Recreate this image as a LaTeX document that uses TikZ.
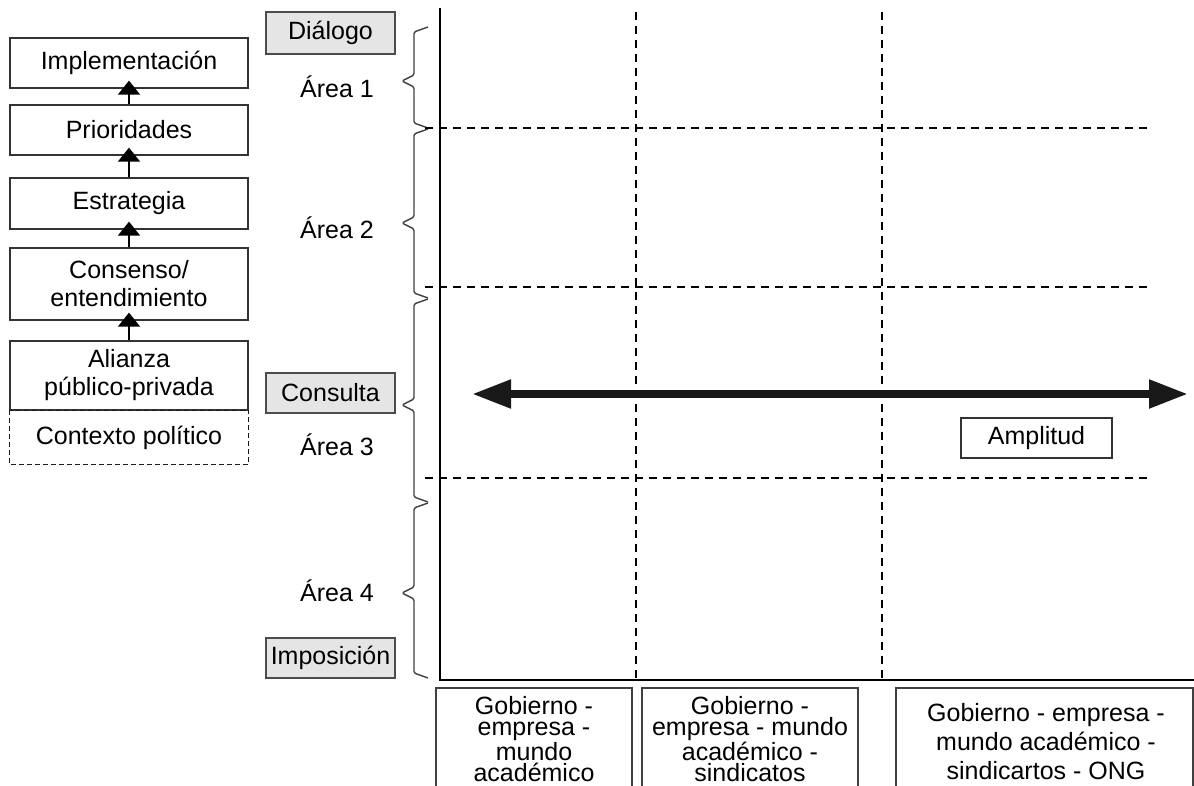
\documentclass[tikz,border=0pt]{standalone}
\usepackage{fontspec}
\setmainfont{Liberation Sans}
\usetikzlibrary{arrows.meta}
\newcommand\mybrace[3]{\draw[brace] (428,#1) -- (414,#1+5) -- (414,#3-6) -- (402,#3) -- (414,#3+6) -- (414,#2-5) -- (428,#2);}
\begin{document}
\begin{tikzpicture}[x=1pt,y=-1pt,
  every node/.style={font=\fontsize{25}{28}\selectfont, inner sep=0pt},
  lbox/.style={draw=black!80, line width=1.3pt, minimum width=238pt, align=center},
  gbox/.style={draw=black!70, fill=black!10, line width=1.3pt, minimum width=129pt},
  upar/.style={line width=1.8pt, -{Triangle[length=14pt,width=22pt]}, shorten >=-8pt},
  brace/.style={draw=black!75, line width=1.4pt, rounded corners=1.5pt},
  axis/.style={line width=2.6pt},
  gridl/.style={line width=2.3pt, dash pattern=on 8pt off 6pt},
  bbox/.style={draw=black!75, line width=1.3pt},
  btext/.style={align=center, font=\fontsize{25}{21.5}\selectfont},
  bigarrow/.style={line width=8pt, draw=black!90, {Triangle[length=39pt,width=27pt]}-{Triangle[length=39pt,width=27pt]}}
]
\useasboundingbox (0,0) rectangle (1194,786);

% left column
\node[lbox, minimum height=50pt] (impl) at (129,63) {Implementación};
\node[lbox, minimum height=50pt] (prio) at (129,130) {Prioridades};
\node[lbox, minimum height=51pt] (estr) at (129,203.5) {Estrategia};
\node[lbox, minimum height=72pt] (cons) at (129,284) {Consenso/\\entendimiento};
\node[lbox, minimum height=69pt] (alia) at (129,375.5) {Alianza\\público-privada};
\node[lbox, draw=none, minimum height=53pt] (ctx) at (129,437.5) {Contexto político};
\draw[black!90, line width=1.6pt, dash pattern=on 5pt off 3pt] (ctx.north west) rectangle (ctx.south east);

\draw[upar] (prio.north) -- (impl.south);
\draw[upar] (estr.north) -- (prio.south);
\draw[upar] (cons.north) -- (estr.south);
\draw[upar] (alia.north) -- (cons.south);

% grey labels
\node[gbox, minimum height=42pt] (dial) at (330.5,33) {Diálogo};
\node[gbox, minimum height=40pt] (cons2) at (330.5,393) {Consulta};
\node[gbox, minimum height=40pt] (impo) at (330.5,658) {Imposición};

% areas
\node (a1) at (337,87) {Área 1};
\node (a2) at (337,228) {Área 2};
\node (a3) at (337,445) {Área 3};
\node (a4) at (337,591) {Área 4};

% braces
\mybrace{27}{128}{81}
\mybrace{129}{298}{223}
\mybrace{299}{502}{405}
\mybrace{503}{678}{593}

% grid
\coordinate (top) at (440,8);
\coordinate (O) at (440,680);
\coordinate (right) at (1194,680);
\draw[gridl] (636,12) -- (636,680);
\draw[gridl] (882,12) -- (882,680);
\draw[gridl] (425,128) -- (1152,128);
\draw[gridl] (425,287) -- (1152,287);
\draw[gridl] (425,478) -- (1152,478);
\draw[axis] (top) -- (O) -- (right);

% amplitude arrow
\coordinate (al) at (472,394);
\coordinate (ar) at (1188,394);
\draw[bigarrow] (al) -- (ar);
\node[draw=black!80, line width=1.3pt, minimum width=151pt, minimum height=40pt] (ampl) at (1036.5,438) {Amplitud};

% bottom boxes
\draw[bbox] (436,786) |- (632,688) -- (632,786);
\draw[bbox] (642,786) |- (858,688) -- (858,786);
\draw[bbox] (896,786) |- (1193,688) -- (1193,786);
\node[btext] (g1) at (534,739) {Gobierno -\\empresa -\\mundo\\académico};
\node[btext] (g2) at (750,739) {Gobierno -\\empresa - mundo\\académico -\\sindicatos};
\node[btext, font=\fontsize{25}{29}\selectfont] (g3) at (1046,742) {Gobierno - empresa -\\mundo académico -\\sindicartos - ONG};
\end{tikzpicture}
\end{document}
